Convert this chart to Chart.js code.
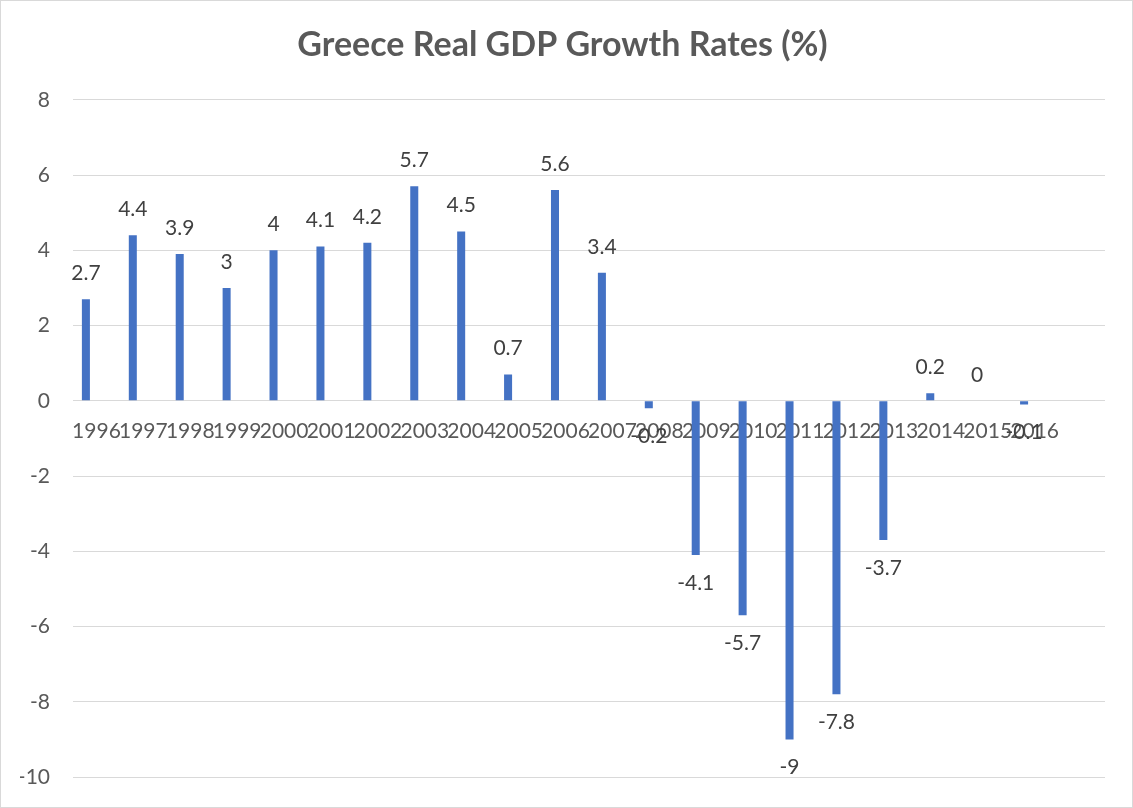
<!DOCTYPE html>
<html>
<head>
<meta charset="utf-8">
<script src="https://cdn.jsdelivr.net/npm/chart.js@4.4.1/dist/chart.umd.min.js"></script>
<style>
  html, body { margin: 0; padding: 0; background: #fff; }
  #wrap {
    width: 1133px;
    height: 808px;
    box-sizing: border-box;
    border: 1px solid #d9d9d9;
    position: relative;
  }
</style>
</head>
<body>
<div id="wrap"><canvas id="myChart"></canvas></div>
<script>
const years = ["1996", "1997", "1998", "1999", "2000", "2001", "2002", "2003", "2004", "2005",
  "2006", "2007", "2008", "2009", "2010", "2011", "2012", "2013", "2014", "2015", "2016", ""];
const growth = [2.7, 4.4, 3.9, 3, 4, 4.1, 4.2, 5.7, 4.5, 0.7,
  5.6, 3.4, -0.2, -4.1, -5.7, -9, -7.8, -3.7, 0.2, 0, -0.1];
const series2 = [];
const yTicks = [-10, -8, -6, -4, -2, 0, 2, 4, 6, 8];

const FONT = "Lato, 'Open Sans', sans-serif";

// value labels above / below each bar, like Excel "outside end"
const valueLabels = {
  id: "valueLabels",
  afterDatasetsDraw(chart) {
    const ctx = chart.ctx;
    const meta = chart.getDatasetMeta(0);
    ctx.save();
    ctx.font = "21px " + FONT;
    ctx.fillStyle = "#404040";
    ctx.textAlign = "center";
    ctx.textBaseline = "middle";
    meta.data.forEach((bar, i) => {
      const v = growth[i];
      if (v === null || v === undefined) return;
      const y = v >= 0 ? bar.y - 26 : bar.y + 28;
      ctx.fillText(String(v), bar.x, y);
    });
    ctx.restore();
  },
};

const ctx = document.getElementById("myChart");

new Chart(ctx, {
  type: "bar",
  data: {
    labels: years,
    datasets: [
      {
        label: "Real GDP growth",
        data: growth,
        backgroundColor: "#4472C4",
        categoryPercentage: 0.9,
        barPercentage: 0.38,
      },
      {
        label: "Series2",
        data: series2,
        backgroundColor: "#ED7D31",
        categoryPercentage: 0.9,
        barPercentage: 0.38,
      },
    ],
  },
  options: {
    responsive: true,
    maintainAspectRatio: false,
    animation: false,
    layout: {
      padding: { left: 19, right: 27, top: 0, bottom: 30 },
    },
    plugins: {
      legend: { display: false },
      tooltip: { enabled: false },
      title: {
        display: true,
        text: "Greece Real GDP Growth Rates (%)",
        color: "#595959",
        font: { family: FONT, size: 34, weight: "bold" },
        padding: { top: 24, bottom: 34 },
      },
    },
    scales: {
      x: {
        position: { y: 0 },
        grid: { display: false },
        border: { display: false },
        ticks: {
          color: "#595959",
          font: { family: FONT, size: 21 },
          autoSkip: false,
          maxRotation: 0,
          minRotation: 0,
          padding: 10,
        },
      },
      y: {
        min: -10,
        max: 8,
        afterBuildTicks: (scale) => {
          scale.ticks = yTicks.map((v) => ({ value: v }));
        },
        afterFit: (scale) => {
          scale.width = 53;
          // tick padding is horizontal here, don't let it push the bottom up
          scale.paddingBottom = 12;
        },
        grid: { color: "#d9d9d9", lineWidth: 1, drawTicks: false },
        border: { display: false },
        ticks: {
          color: "#595959",
          font: { family: FONT, size: 21 },
          padding: 23,
        },
      },
    },
  },
  plugins: [valueLabels],
});
</script>
</body>
</html>
